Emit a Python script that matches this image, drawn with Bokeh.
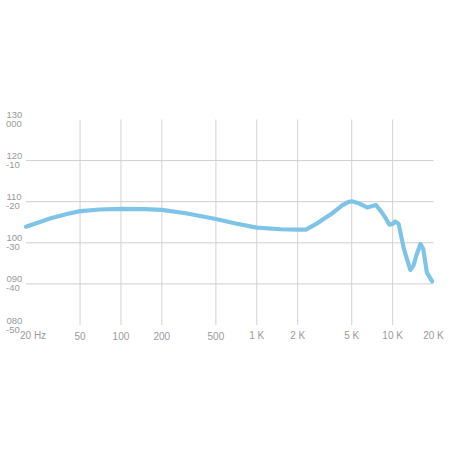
import math
from bokeh.plotting import figure
from bokeh.models import Range1d
from bokeh.core.properties import value
from bokeh.embed import file_html
from bokeh.resources import INLINE

# Frequency response (Hz, dB)
freq = [20, 25, 30, 40, 50, 70, 100, 150, 200, 300, 500, 700, 1000, 1500, 2000,
        2300, 2740, 3100, 3535, 4227, 4700, 5000, 5650, 6490, 7000, 7530, 8330, 8810, 9480,
        10000, 10440, 11070, 12110, 13490, 14300, 14940, 16040, 16810, 17870, 19550]
db = [103.9, 105.0, 105.9, 107.0, 107.7, 108.1, 108.25, 108.2, 108.0, 107.2, 105.8,
      104.7, 103.7, 103.3, 103.2, 103.2, 104.6, 105.8, 107.0, 109.05, 109.9, 110.1, 109.6,
      108.6, 108.9, 109.2, 107.4, 106.2, 104.4, 104.6, 105.2, 104.6, 98.5, 93.4, 94.6,
      96.9, 99.7, 98.5, 92.8, 90.6]

x_ticks = [20, 50, 100, 200, 500, 1000, 2000, 5000, 10000, 20000]
x_labels = ["20 Hz", "50", "100", "200", "500", "1 K", "2 K", "5 K", "10 K", "20 K"]
x_grid = [50, 100, 200, 500, 1000, 2000, 5000, 10000]

y_ticks = [130, 120, 110, 100, 90, 80]
y_labels_top = ["130", "120", "110", "100", "090", "080"]
y_labels_bottom = ["000", "-10", "-20", "-30", "-40", "-50"]
y_grid = [90, 100, 110, 120]

F_MIN, F_MAX = 20, 20000
DB_MIN, DB_MAX = 80, 130

TEXT = "#9a9a9a"
FONT = value("Liberation Sans")

# Layout: the plotting area (20 Hz..20 kHz, 80..130 dB) sits at pixels
# x 25.5..433, y 119..324.5 inside a 450x450 canvas.
W, H = 450, 450
AX_L, AX_R, AX_T, AX_B = 25.5, 433.0, 119.0, 324.5
ppd = (AX_R - AX_L) / (math.log10(F_MAX) - math.log10(F_MIN))
x0 = F_MIN * 10 ** (-AX_L / ppd)
x1 = F_MAX * 10 ** ((W - AX_R) / ppd)
ppdb = (AX_B - AX_T) / (DB_MAX - DB_MIN)
y1 = DB_MAX + AX_T / ppdb
y0 = DB_MIN - (H - AX_B) / ppdb

p = figure(frame_width=W, frame_height=H, x_axis_type="log",
           x_range=Range1d(x0, x1), y_range=Range1d(y0, y1),
           min_border=0, output_backend="svg", toolbar_location=None)
p.axis.visible = False
p.grid.visible = False
p.outline_line_color = None
p.background_fill_color = "white"
p.border_fill_color = "white"

# grid lines
p.segment(x0=x_grid, y0=[DB_MIN] * len(x_grid), x1=x_grid, y1=[DB_MAX] * len(x_grid),
          line_color="#d2d2d2", line_width=1)
p.segment(x0=[F_MIN] * len(y_grid), y0=y_grid, x1=[F_MAX] * len(y_grid), y1=y_grid,
          line_color="#cfcfcf", line_width=1)

p.line(freq, db, line_color="#7ec4e9", line_width=4.2, line_cap="round", line_join="round")

# x tick labels
p.text(x=x_ticks[:1], y=[DB_MIN], text=x_labels[:1], text_color=TEXT,
       text_font=FONT, text_font_size="10px", text_align="left",
       text_baseline="middle", x_offset=-6, y_offset=10.5)
p.text(x=x_ticks[1:], y=[DB_MIN] * (len(x_ticks) - 1), text=x_labels[1:],
       text_color=TEXT, text_font=FONT, text_font_size="10px", text_align="center",
       text_baseline="middle", y_offset=10.5)

# y tick labels (two stacked scales)
p.text(x=[F_MIN] * len(y_ticks), y=y_ticks, text=y_labels_top, text_color=TEXT,
       text_font=FONT, text_font_size="9.5px", text_align="left",
       text_baseline="middle", x_offset=-19.5, y_offset=-4.5)
p.text(x=[F_MIN] * len(y_ticks), y=y_ticks, text=y_labels_bottom, text_color=TEXT,
       text_font=FONT, text_font_size="9.5px", text_align="left",
       text_baseline="middle", x_offset=-20, y_offset=4.5)

open("out.html", "w").write(file_html(p, INLINE))
